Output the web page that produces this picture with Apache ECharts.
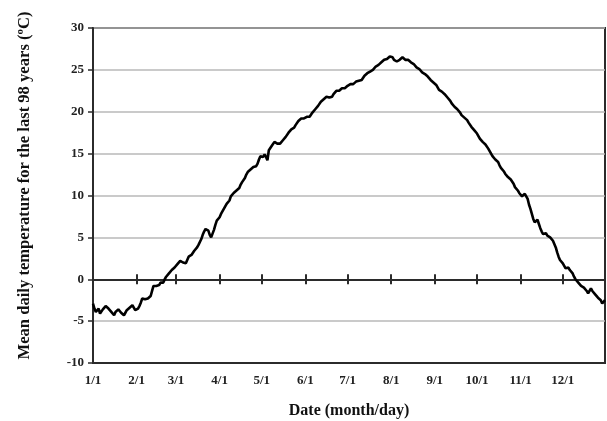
<!DOCTYPE html>
<html>
<head>
<meta charset="utf-8">
<script src="https://cdn.jsdelivr.net/npm/echarts@6/dist/echarts.min.js"></script>
<style>
  html, body { margin: 0; padding: 0; background: #fff; }
  #chart { width: 607px; height: 421px; }
</style>
</head>
<body>
<div id="chart"></div>
<script>
// Mean daily temperature (°C), one value per day, grouped by month
const jan = [-2.9,-3.5,-3.9,-3.8,-3.5,-4.1,-3.9,-3.6,-3.4,-3.2,-3.4,-3.5,-3.7,-3.9,-4.1,-4.3,-3.9,-3.7,-3.6,-3.8,-4.0,-3.9,-4.3,-4.0,-3.7,-3.5,-3.4,-3.3,-3.1,-3.4,-3.7];
const feb = [-3.6,-3.5,-3.2,-2.8,-2.3,-2.2,-2.4,-2.4,-2.3,-2.2,-2.0,-1.4,-0.8,-0.6,-0.8,-1.0,-0.7,-0.4,-0.2,-0.4,0.0,0.3,0.5,0.7,0.9,1.1,1.25,1.4];
const mar = [1.6,1.8,2.0,2.2,2.2,2.0,1.8,1.9,2.3,2.7,2.8,2.9,3.1,3.4,3.6,3.8,4.1,4.3,4.8,5.3,5.7,6.0,6.0,5.8,5.3,5.0,5.1,5.9,6.5,7.0,7.2];
const apr = [7.4,7.8,8.1,8.4,8.7,9.0,9.1,9.4,9.9,10.1,10.3,10.5,10.6,10.8,10.9,11.3,11.6,11.8,12.1,12.5,12.8,12.9,13.1,13.3,13.4,13.3,13.5,13.8,14.3,14.7];
const may = [14.8,14.6,14.9,14.6,14.2,15.4,15.6,15.9,16.1,16.4,16.5,16.2,16.3,16.2,16.4,16.6,16.8,17.0,17.2,17.5,17.6,17.9,18.0,18.1,18.4,18.6,18.9,19.1,19.2,19.3,19.2];
const jun = [19.3,19.4,19.5,19.4,19.6,19.9,20.1,20.3,20.4,20.7,20.9,21.2,21.4,21.5,21.6,21.8,21.6,21.7,21.8,21.8,22.1,22.3,22.5,22.6,22.5,22.7,22.8,22.9,22.8,23.0];
const jul = [23.1,23.0,23.3,23.4,23.3,23.5,23.6,23.5,23.7,23.8,23.8,24.0,24.3,24.4,24.6,24.6,24.8,24.9,25.0,25.2,25.4,25.3,25.6,25.8,25.9,26.0,26.2,26.3,26.3,26.5,26.6];
const aug = [26.4,26.5,26.2,26.1,26.0,26.1,26.2,26.1,26.5,26.4,26.2,26.3,26.2,26.1,25.9,25.8,25.7,25.5,25.3,25.2,25.1,24.9,24.7,24.6,24.5,24.3,24.2,24.0,23.8,23.7,23.5];
const sep = [23.4,23.2,22.9,22.6,22.5,22.4,22.3,22.1,21.9,21.7,21.5,21.3,21.0,20.8,20.6,20.5,20.3,20.1,19.9,19.6,19.4,19.3,19.2,19.0,18.7,18.5,18.2,18.0,17.8,17.6];
const oct = [17.4,17.1,16.8,16.6,16.4,16.2,16.1,15.9,15.6,15.3,15.0,14.7,14.5,14.3,14.1,14.0,13.6,13.3,13.1,12.9,12.6,12.4,12.2,12.0,11.9,11.7,11.4,11.0,10.8,10.6,10.3];
const nov = [10.1,9.9,10.0,10.2,10.1,9.6,8.9,8.4,7.8,7.2,6.8,7.0,7.1,6.6,6.1,5.7,5.4,5.3,5.5,5.2,5.4,5.0,4.8,4.6,4.4,3.8,3.2,2.7,2.3,2.1];
const dec = [1.9,1.6,1.3,1.2,1.4,1.1,1.0,0.7,0.3,0.0,-0.2,-0.4,-0.6,-0.8,-0.9,-1.0,-1.2,-1.4,-1.7,-1.4,-1.1,-1.4,-1.6,-1.8,-2.0,-2.2,-2.3,-2.5,-2.9,-2.8,-2.5];

const months = [jan, feb, mar, apr, may, jun, jul, aug, sep, oct, nov, dec];
const tickLabels = ['1/1','2/1','3/1','4/1','5/1','6/1','7/1','8/1','9/1','10/1','11/1','12/1'];

// Build day categories (month/day); remember the label for the first day of each month
const categories = [];
const temps = [];
const monthLabelAt = {};
months.forEach((arr, m) => {
  monthLabelAt[categories.length] = tickLabels[m];
  arr.forEach((v, d) => {
    categories.push((m + 1) + '/' + (d + 1));
    temps.push(v);
  });
});
const isMonthStart = (idx) => idx in monthLabelAt;

const FONT = '"Liberation Serif", "Times New Roman", serif';
const gridBox = { left: 93, right: 2, top: 28, bottom: 58, outerBoundsMode: 'none', containLabel: false };
const dark = '#2b2b2b';

const chart = echarts.init(document.getElementById('chart'));
chart.setOption({
  animation: false,
  backgroundColor: '#fff',
  grid: [
    Object.assign({ show: true, borderColor: dark, borderWidth: 2 }, gridBox),
    Object.assign({}, gridBox),
    Object.assign({}, gridBox)
  ],
  xAxis: [
    {
      // bottom axis carrying the month labels
      gridIndex: 0,
      type: 'category',
      data: categories,
      boundaryGap: false,
      position: 'bottom',
      axisLine: { onZero: false, lineStyle: { color: dark, width: 2 } },
      axisTick: { show: false },
      axisLabel: {
        interval: (i) => isMonthStart(i),
        formatter: (v, i) => monthLabelAt[i] || '',
        margin: 11,
        fontFamily: FONT, fontWeight: 'bold', fontSize: 13, color: '#222'
      },
      splitLine: { show: false },
      name: 'Date (month/day)',
      nameLocation: 'middle',
      nameGap: 40,
      nameTextStyle: { fontFamily: FONT, fontWeight: 'bold', fontSize: 16, color: '#111' }
    },
    {
      // zero line with upward ticks
      gridIndex: 1,
      type: 'category',
      data: categories,
      boundaryGap: false,
      axisLine: { onZero: true, lineStyle: { color: dark, width: 2 } },
      axisTick: { show: true, inside: true, length: 5, interval: (i) => isMonthStart(i) && i > 0, lineStyle: { color: dark, width: 2 } },
      axisLabel: { show: false }
    },
    {
      // downward ticks on the zero line
      gridIndex: 2,
      type: 'category',
      data: categories,
      boundaryGap: false,
      axisLine: { onZero: true, show: false },
      axisTick: { show: true, inside: false, length: 5, interval: (i) => isMonthStart(i) && i > 0, lineStyle: { color: dark, width: 2 } },
      axisLabel: { show: false }
    }
  ],
  yAxis: [
    {
      gridIndex: 0,
      type: 'value',
      min: -10, max: 30, interval: 5,
      axisLine: { show: true, lineStyle: { color: dark, width: 2 } },
      axisTick: { show: true, length: 5, lineStyle: { color: dark, width: 1.5 } },
      axisLabel: { margin: 9, fontFamily: FONT, fontWeight: 'bold', fontSize: 13, color: '#222' },
      splitLine: { show: true, lineStyle: { color: '#b8b8b8', width: 1.5 } },
      name: 'Mean daily temperature for the last 98 years (ºC)',
      nameLocation: 'middle',
      nameGap: 60,
      nameTextStyle: { fontFamily: FONT, fontWeight: 'bold', fontSize: 16.6, color: '#111', padding: [0, 0, 0, 20] }
    },
    { gridIndex: 1, type: 'value', min: -10, max: 30, show: false },
    { gridIndex: 2, type: 'value', min: -10, max: 30, show: false }
  ],
  series: [
    {
      type: 'line',
      xAxisIndex: 0, yAxisIndex: 0,
      data: temps,
      showSymbol: false,
      smooth: false,
      lineStyle: { color: '#000', width: 2.6 },
      z: 5
    }
  ]
});
</script>
</body>
</html>
